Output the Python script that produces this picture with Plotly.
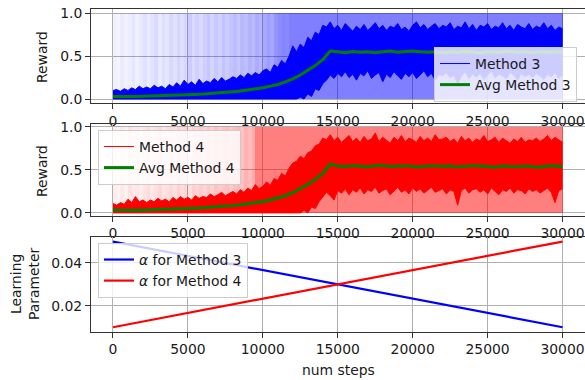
import plotly.graph_objects as go

# ---------------- data ----------------
env_steps = list(range(0, 30001, 250))      # 121 sample positions for the noisy envelopes
avg_steps = list(range(0, 30001, 500))      # 61 sample positions for the averages

m3_upper = [0.10, 0.11, 0.09, 0.12, 0.10, 0.13, 0.11, 0.15, 0.12,
            0.14, 0.12, 0.16, 0.13, 0.15, 0.12, 0.17, 0.14,
            0.19, 0.15, 0.22, 0.17, 0.20, 0.16, 0.23, 0.18,
            0.21, 0.19, 0.24, 0.20, 0.25, 0.21, 0.23, 0.26,
            0.24, 0.28, 0.25, 0.30, 0.27, 0.31, 0.28, 0.33,
            0.35, 0.31, 0.40, 0.37, 0.45, 0.41, 0.50, 0.62,
            0.55, 0.64, 0.60, 0.72, 0.68, 0.78, 0.75, 0.86,
            0.84, 0.90, 0.82, 0.86, 0.80, 0.88, 0.83, 0.79,
            0.85, 0.81, 0.87, 0.80, 0.84, 0.89, 0.82, 0.86,
            0.80, 0.85, 0.83, 0.88, 0.81, 0.84, 0.79, 0.86,
            0.90, 0.83, 0.87, 0.81, 0.85, 0.88, 0.82, 0.86,
            0.84, 0.89, 0.81, 0.85, 0.83, 0.90, 0.82, 0.87,
            0.80, 0.86, 0.84, 0.88, 0.81, 0.85, 0.83, 0.89,
            0.82, 0.86, 0.80, 0.87, 0.84, 0.82, 0.88, 0.81,
            0.85, 0.83, 0.89, 0.82, 0.86, 0.80, 0.84, 0.82]

m3_lower = [0.00, 0.00, 0.00, 0.00, 0.00, 0.00, 0.00, 0.00, 0.00,
            0.00, 0.00, 0.00, 0.00, 0.00, 0.00, 0.00, 0.00,
            0.00, 0.00, 0.00, 0.00, 0.00, 0.00, 0.00, 0.00,
            0.00, 0.00, 0.00, 0.00, 0.00, 0.00, 0.00, 0.00,
            0.00, 0.00, 0.00, 0.00, 0.00, 0.00, 0.00, 0.00,
            0.00, 0.00, 0.00, 0.00, 0.00, 0.00, 0.00, 0.00,
            0.00, 0.02, 0.00, 0.06, 0.03, 0.12, 0.10, 0.18,
            0.22, 0.28, 0.24, 0.30, 0.26, 0.32, 0.25, 0.29,
            0.22, 0.30, 0.27, 0.33, 0.24, 0.28, 0.31, 0.20,
            0.29, 0.25, 0.32, 0.27, 0.23, 0.30, 0.26, 0.31,
            0.24, 0.28, 0.33, 0.26, 0.30, 0.22, 0.29, 0.27,
            0.31, 0.25, 0.28, 0.18, 0.27, 0.32, 0.24, 0.29,
            0.26, 0.30, 0.23, 0.28, 0.33, 0.25, 0.29, 0.27,
            0.24, 0.31, 0.28, 0.22, 0.30, 0.26, 0.29, 0.25,
            0.30, 0.27, 0.23, 0.29, 0.26, 0.31, 0.24, 0.28]

m3_avg = [0.030, 0.026, 0.028, 0.030, 0.032, 0.035, 0.037, 0.040, 0.042, 0.046,
          0.050, 0.054, 0.058, 0.063, 0.070, 0.076, 0.085, 0.093, 0.105, 0.118,
          0.132, 0.150, 0.170, 0.200, 0.235, 0.280, 0.330, 0.390, 0.460, 0.560,
          0.550, 0.540, 0.555, 0.545, 0.550, 0.540, 0.550, 0.560, 0.545, 0.550,
          0.560, 0.550, 0.545, 0.550, 0.540, 0.550, 0.545, 0.555, 0.550, 0.540,
          0.550, 0.545, 0.550, 0.555, 0.545, 0.550, 0.540, 0.550, 0.545, 0.550,
          0.550]

m4_upper = [0.11, 0.09, 0.12, 0.10, 0.16, 0.12, 0.19, 0.13, 0.15,
            0.12, 0.15, 0.13, 0.17, 0.14, 0.16, 0.13, 0.18,
            0.15, 0.19, 0.16, 0.18, 0.15, 0.20, 0.17, 0.19,
            0.18, 0.22, 0.19, 0.21, 0.24, 0.20, 0.23, 0.25,
            0.22, 0.27, 0.24, 0.29, 0.26, 0.33, 0.28, 0.31,
            0.36, 0.32, 0.40, 0.38, 0.46, 0.43, 0.52, 0.58,
            0.60, 0.66, 0.63, 0.70, 0.72, 0.78, 0.80, 0.87,
            0.85, 0.91, 0.84, 0.88, 0.82, 0.86, 0.90, 0.83,
            0.87, 0.82, 0.89, 0.84, 0.86, 0.93, 0.83, 0.88,
            0.85, 0.81, 0.88, 0.84, 0.90, 0.83, 0.87, 0.85,
            0.82, 0.89, 0.84, 0.87, 0.83, 0.91, 0.85, 0.86,
            0.88, 0.83, 0.86, 0.81, 0.89, 0.84, 0.87, 0.82,
            0.86, 0.84, 0.90, 0.83, 0.85, 0.88, 0.82, 0.87,
            0.84, 0.81, 0.86, 0.83, 0.88, 0.82, 0.85, 0.84,
            0.87, 0.83, 0.86, 0.90, 0.84, 0.88, 0.85, 0.82]

m4_lower = [0.00, 0.00, 0.00, 0.00, 0.00, 0.00, 0.00, 0.00, 0.00,
            0.00, 0.00, 0.00, 0.00, 0.00, 0.00, 0.00, 0.00,
            0.00, 0.00, 0.00, 0.00, 0.00, 0.00, 0.00, 0.00,
            0.00, 0.00, 0.00, 0.00, 0.00, 0.00, 0.00, 0.00,
            0.00, 0.00, 0.00, 0.00, 0.00, 0.00, 0.00, 0.00,
            0.00, 0.00, 0.00, 0.00, 0.00, 0.00, 0.00, 0.00,
            0.00, 0.00, 0.03, 0.00, 0.07, 0.05, 0.13, 0.18,
            0.24, 0.20, 0.15, 0.26, 0.23, 0.28, 0.21, 0.27,
            0.24, 0.29, 0.22, 0.27, 0.25, 0.30, 0.23, 0.26,
            0.28, 0.21, 0.26, 0.30, 0.24, 0.27, 0.22, 0.29,
            0.25, 0.28, 0.23, 0.27, 0.30, 0.24, 0.26, 0.28,
            0.22, 0.27, 0.25, 0.09, 0.26, 0.29, 0.23, 0.27,
            0.28, 0.24, 0.27, 0.22, 0.29, 0.25, 0.21, 0.27,
            0.25, 0.29, 0.23, 0.27, 0.26, 0.22, 0.28, 0.25,
            0.27, 0.23, 0.26, 0.29, 0.24, 0.12, 0.26, 0.28]

m4_avg = [0.035, 0.030, 0.030, 0.032, 0.034, 0.036, 0.038, 0.040, 0.043, 0.047,
          0.051, 0.055, 0.059, 0.064, 0.070, 0.077, 0.085, 0.094, 0.105, 0.118,
          0.133, 0.150, 0.172, 0.200, 0.235, 0.280, 0.330, 0.390, 0.460, 0.570,
          0.545, 0.540, 0.550, 0.545, 0.535, 0.550, 0.555, 0.540, 0.545, 0.550,
          0.540, 0.535, 0.545, 0.550, 0.540, 0.545, 0.535, 0.540, 0.550, 0.545,
          0.540, 0.530, 0.545, 0.540, 0.535, 0.545, 0.540, 0.530, 0.545, 0.550,
          0.535]

# light background band: share of episodes that reach reward 1 in each step bin
band3_edges = list(range(0, 12001, 250)) + [30000]
band3_density = [0.06, 0.04, 0.08, 0.05, 0.07, 0.10, 0.06, 0.09,
                 0.12, 0.08, 0.11, 0.14, 0.09, 0.13, 0.10, 0.15,
                 0.12, 0.17, 0.13, 0.16, 0.20, 0.14, 0.18, 0.15,
                 0.19, 0.22, 0.17, 0.21, 0.18, 0.24, 0.20, 0.23,
                 0.26, 0.22, 0.28, 0.25, 0.30, 0.27, 0.33, 0.29,
                 0.34, 0.38, 0.35, 0.42, 0.45, 0.48, 0.46, 0.50,
                 0.50]
band4_edges = list(range(0, 9501, 250)) + [30000]
band4_density = [0.07, 0.05, 0.09, 0.06, 0.12, 0.08, 0.10, 0.07,
                 0.11, 0.14, 0.09, 0.12, 0.16, 0.10, 0.13, 0.15,
                 0.12, 0.18, 0.14, 0.17, 0.13, 0.19, 0.16, 0.20,
                 0.17, 0.22, 0.18, 0.24, 0.20, 0.23, 0.26, 0.21,
                 0.25, 0.28, 0.24, 0.30, 0.27, 0.33,
                 0.50]
reward_max = 1.0

alpha_steps = [0, 30000]
alpha_m3 = [0.05, 0.01]
alpha_m4 = [0.01, 0.05]

x_ticks = [0, 5000, 10000, 15000, 20000, 25000, 30000]

# ---------------- figure ----------------
W, H = 585, 380
L = 91                      # left margin in px
PW = W - L                  # plot-area width
FONT = "DejaVu Sans"
TXT = "#1a1a1a"
fig = go.Figure()


def px_x(px):
    return (px - L) / PW


def px_y(py):
    return 1 - py / H


def band(edges, dens, rgb, xa, ya):
    centers = [(edges[i] + edges[i + 1]) / 2 for i in range(len(dens))]
    widths = [edges[i + 1] - edges[i] for i in range(len(dens))]
    fig.add_trace(go.Bar(
        x=centers, y=[reward_max] * len(dens), width=widths, base=0,
        marker=dict(color=[f"rgba({rgb},{d})" for d in dens], line=dict(width=0)),
        xaxis=xa, yaxis=ya, showlegend=False, hoverinfo="skip"))


def noisy(lower, upper, avg, color, name, xa, ya, leg):
    fig.add_trace(go.Scatter(x=env_steps, y=lower, mode="lines",
                             line=dict(color=color, width=1), name=name,
                             xaxis=xa, yaxis=ya, legend=leg))
    fig.add_trace(go.Scatter(x=env_steps, y=upper, mode="lines", fill="tonexty",
                             fillcolor=color, line=dict(color=color, width=1),
                             xaxis=xa, yaxis=ya, showlegend=False))
    fig.add_trace(go.Scatter(x=avg_steps, y=avg, mode="lines",
                             line=dict(color="#008000", width=3), name="Avg " + name,
                             xaxis=xa, yaxis=ya, legend=leg))


band(band3_edges, band3_density, "0,0,255", "x", "y")
noisy(m3_lower, m3_upper, m3_avg, "#0000ff", "Method 3", "x", "y", "legend")
band(band4_edges, band4_density, "255,0,0", "x2", "y2")
noisy(m4_lower, m4_upper, m4_avg, "#ff0000", "Method 4", "x2", "y2", "legend2")

fig.add_trace(go.Scatter(x=alpha_steps, y=alpha_m3, mode="lines",
                         line=dict(color="#0000ff", width=2.2), name="<i>α</i> for Method 3",
                         xaxis="x3", yaxis="y3", legend="legend3"))
fig.add_trace(go.Scatter(x=alpha_steps, y=alpha_m4, mode="lines",
                         line=dict(color="#ff0000", width=2.2), name="<i>α</i> for Method 4",
                         xaxis="x3", yaxis="y3", legend="legend3"))

xr = [-1467, 31500]
doms = {
    "": (9.0, 103.3),
    "2": (123.5, 215.5),
    "3": (237.3, 331.5),
}
axis_common = dict(showline=True, linecolor="#333333", linewidth=1,
                   ticks="outside", ticklen=5, tickwidth=1, tickcolor="#333333",
                   showgrid=True, gridcolor="#b0b0b0", gridwidth=1, zeroline=False,
                   tickfont=dict(family=FONT, size=13.9, color=TXT))
lay = {}
for k, (t, b) in doms.items():
    lay["xaxis" + k] = dict(axis_common, domain=[0, 1], range=xr, tickvals=x_ticks,
                            tickformat="d", mirror=True, anchor="y" + k)
    yd = dict(axis_common, domain=[px_y(b), px_y(t)], anchor="x" + k, mirror=False)
    if k == "3":
        yd.update(range=[0.008, 0.052], tickvals=[0.02, 0.04], tickformat=".2f")
    else:
        yd.update(range=[-0.05, 1.05] if k == "" else [-0.03, 1.04],
                  tickvals=[0, 0.5, 1.0], tickformat=".1f")
    lay["yaxis" + k] = yd

leg_common = dict(bgcolor="rgba(255,255,255,0.8)", bordercolor="#cccccc", borderwidth=1,
                  font=dict(family=FONT, size=13.9, color=TXT), tracegroupgap=0,
                  traceorder="normal")
lay["legend"] = dict(leg_common, x=px_x(577), y=px_y(47), xanchor="right", yanchor="top")
lay["legend2"] = dict(leg_common, x=px_x(98), y=px_y(130), xanchor="left", yanchor="top")
lay["legend3"] = dict(leg_common, x=px_x(98), y=px_y(243), xanchor="left", yanchor="top")

ann_font = dict(family=FONT, size=13.9, color=TXT)
annotations = [
    dict(text="Reward", x=px_x(42), y=px_y(57), textangle=-90),
    dict(text="Reward", x=px_x(42), y=px_y(171), textangle=-90),
    dict(text="Learning<br>Parameter", x=px_x(25), y=px_y(284), textangle=-90),
    dict(text="num steps", x=px_x(338), y=px_y(370), textangle=0),
]
annotations = [dict(a, xref="paper", yref="paper", showarrow=False, font=ann_font,
                    xanchor="center", yanchor="middle") for a in annotations]

fig.update_layout(
    width=W, height=H, margin=dict(l=L, r=0, t=0, b=0, autoexpand=False),
    paper_bgcolor="white", plot_bgcolor="white", barmode="overlay", bargap=0,
    font=dict(family=FONT, size=13.9, color=TXT), hovermode=False,
    annotations=annotations, showlegend=True, **lay)

fig.write_html("out.html", config={"displayModeBar": False},
               post_script="document.body.style.margin='0px';")
